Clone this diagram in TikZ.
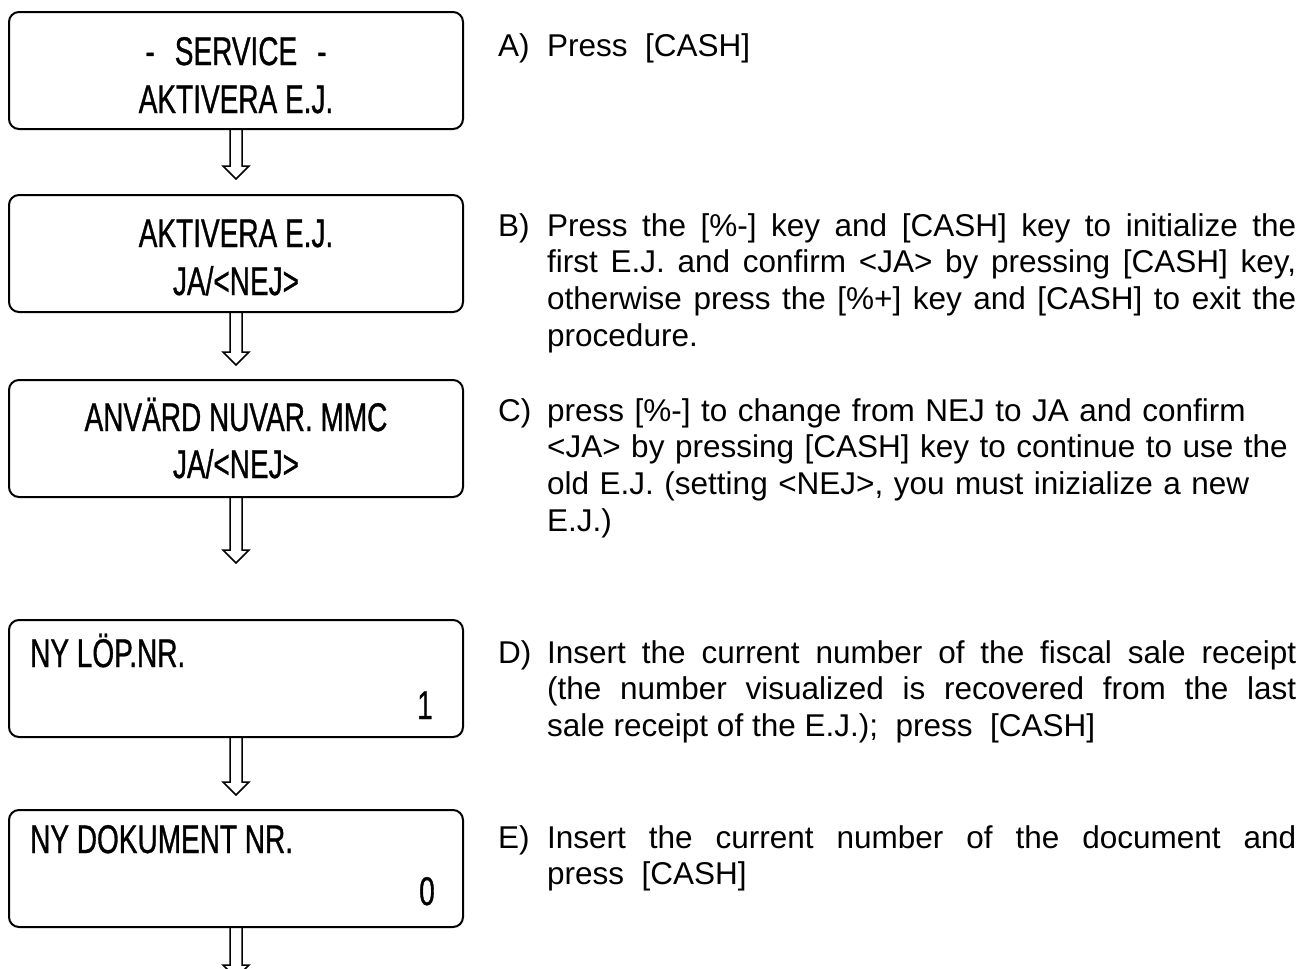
\documentclass[tikz,border=0pt]{standalone}
\usepackage{fontspec}
\setmainfont{Liberation Sans}
\newfontfamily\lcdfont[FakeStretch=0.7,FakeBold=0.8]{Liberation Sans}

\tikzset{
  screen/.style={draw, line width=2pt, rounded corners=10pt, minimum width=454pt, minimum height=117pt, inner sep=0pt},
  lcd/.style={anchor=base, inner sep=0pt, font=\lcdfont\fontsize{40}{46}\selectfont},
  flowarrow/.style={line width=1.5pt, line join=miter},
  steplabel/.style={anchor=base west, inner sep=0pt, font=\fontsize{31.5}{36.7}\selectfont},
  steptext/.style={anchor=base west, inner sep=0pt, text width=749pt, align=justify, font=\fontsize{31.5}{36.7}\selectfont},
}

\newcommand\hollowarrow[2]{%
  \draw[flowarrow] ([xshift=-6pt]#1.south) -- ([xshift=-6pt,yshift=13pt]#2)
    -- ([xshift=-13pt,yshift=13pt]#2) -- (#2) -- ([xshift=13pt,yshift=13pt]#2)
    -- ([xshift=6pt,yshift=13pt]#2) -- ([xshift=6pt]#1.south);}

\begin{document}
\begin{tikzpicture}[x=1pt,y=-1pt]

\useasboundingbox (0,0) rectangle (1304,969);

\node[screen] (b1) at (236,70.5) {};
\node[screen] (b2) at (236,253.5) {};
\node[screen] (b3) at (236,438.5) {};
\node[screen] (b4) at (236,678.5) {};
\node[screen] (b5) at (236,868.5) {};

\node[lcd] (b1l1) at (236,65) {-\hspace{20pt}SERVICE\hspace{20pt}-};
\node[lcd] (b1l2) at (236,113) {AKTIVERA E.J.};
\node[lcd] (b2l1) at (236,247) {AKTIVERA E.J.};
\node[lcd] (b2l2) at (236,295) {JA/<NEJ>};
\node[lcd] (b3l1) at (236,431) {ANVÄRD NUVAR. MMC};
\node[lcd] (b3l2) at (236,478) {JA/<NEJ>};
\node[lcd, anchor=base west] (b4l1) at (30,667) {NY LÖP.NR.};
\node[lcd, anchor=base east] (b4l2) at (433,719) {1};
\node[lcd, anchor=base west] (b5l1) at (30,853) {NY DOKUMENT NR.};
\node[lcd, anchor=base east] (b5l2) at (435,905) {0};

\coordinate (t1) at ([yshift=15pt]b2.north);
\coordinate (t2) at ([yshift=14pt]b3.north);
\coordinate (t3) at ([yshift=56pt]b4.north);
\coordinate (t4) at ([yshift=14pt]b5.north);
\coordinate (t5) at (236,978);

\hollowarrow{b1}{t1}
\hollowarrow{b2}{t2}
\hollowarrow{b3}{t3}
\hollowarrow{b4}{t4}
\hollowarrow{b5}{t5}

\node[steplabel] (la) at (498,56) {A)};
\node[steptext] (ta) at (547,56) {Press~~[CASH]};
\node[steplabel] (lb) at (498,236) {B)};
\node[steptext] (tb) at (547,236) {Press the [\%-] key and [CASH] key to initialize the\linebreak
  first E.J. and confirm <JA> by pressing [CASH] key,\linebreak
  otherwise press the [\%+] key and [CASH] to exit the\linebreak
  procedure.};
\node[steplabel] (lc) at (498,421) {C)};
\node[steptext, align=left] (tc) at (547,421) {press [\%-] to change from NEJ to JA and confirm\\
  <JA> by pressing [CASH] key to continue to use the\\
  old E.J. (setting <NEJ>, you must inizialize a new\\
  E.J.)};
\node[steplabel] (ld) at (498,663) {D)};
\node[steptext] (td) at (547,663) {Insert the current number of the fiscal sale receipt\linebreak
  (the number visualized is recovered from the last\linebreak
  sale receipt of the E.J.);~~press~~[CASH]};
\node[steplabel] (le) at (498,848) {E)};
\node[steptext] (te) at (547,848) {Insert the current number of the document and\linebreak
  press~~[CASH]};

\end{tikzpicture}
\end{document}
